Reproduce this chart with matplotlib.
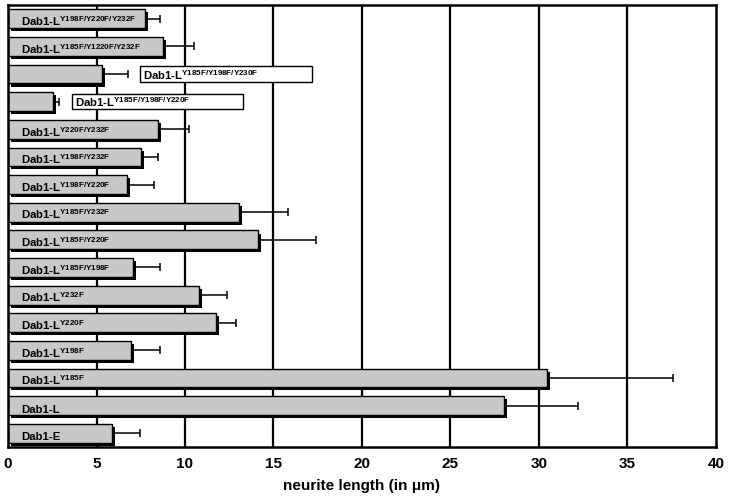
import numpy as np
import matplotlib
matplotlib.use("Agg")
import matplotlib.pyplot as plt
import matplotlib.patheffects as pe

plt.rcParams['font.family'] = ['Liberation Sans', 'DejaVu Sans']
plt.rcParams['mathtext.fontset'] = 'custom'
plt.rcParams['mathtext.rm'] = 'Liberation Sans:bold'
plt.rcParams['mathtext.bf'] = 'Liberation Sans:bold'

# rows listed top to bottom
names = ["Dab1-L", "Dab1-L", "Dab1-L", "Dab1-L", "Dab1-L", "Dab1-L", "Dab1-L", "Dab1-L",
         "Dab1-L", "Dab1-L", "Dab1-L", "Dab1-L", "Dab1-L", "Dab1-L", "Dab1-L", "Dab1-E"]
mutations = ["Y198F/Y220F/Y232F", "Y185F/Y1220F/Y232F", "Y185F/Y198F/Y230F",
             "Y185F/Y198F/Y220F", "Y220F/Y232F", "Y198F/Y232F", "Y198F/Y220F",
             "Y185F/Y232F", "Y185F/Y220F", "Y185F/Y198F", "Y232F", "Y220F",
             "Y198F", "Y185F", "", ""]
lengths = [7.75, 8.75, 5.3, 2.55, 8.5, 7.5, 6.7, 13.05, 14.1, 7.05, 10.8, 11.75,
           6.95, 30.45, 28.05, 5.85]
errors = [0.85, 1.75, 1.5, 0.35, 1.7, 1.0, 1.55, 2.75, 3.3, 1.55, 1.6, 1.15,
          1.65, 7.15, 4.15, 1.6]
# rows whose label sits in an outside box
outside_rows = [2, 3]
box_start = [7.45, 3.6]
box_end = [17.2, 13.3]

fig = plt.figure(figsize=(7.29, 4.99), dpi=100)
ax = fig.add_axes([0.011, 0.104, 0.971, 0.886])

y = np.arange(len(lengths))
for v in range(5, 40, 5):
    ax.axvline(v, color='black', lw=1.6, zorder=0)

bars = ax.barh(y, lengths, height=0.68, color='#c8c8c8', edgecolor='black',
               linewidth=1.0, zorder=2)
for b in bars:
    b.set_path_effects([pe.SimplePatchShadow(offset=(2.2, -2.2), shadow_rgbFace='black', alpha=1.0),
                        pe.Normal()])
ax.errorbar(lengths, y, xerr=[np.zeros(len(errors)), errors], fmt='none',
            ecolor='black', elinewidth=1.1, capsize=3, capthick=1.1, zorder=1)

def label(name, mut):
    if mut:
        return name + r"$^{\mathrm{" + mut + "}}$"
    return name

for i in range(len(lengths)):
    if i in outside_rows:
        continue
    ax.text(0.75, y[i] + 0.26, label(names[i], mutations[i]), fontsize=8.2,
            fontweight='bold', va='baseline', ha='left', zorder=4)

ax.barh([y[r] for r in outside_rows], [e - s for s, e in zip(box_start, box_end)],
        left=box_start, height=0.55, color='white', edgecolor='black', linewidth=1.0, zorder=3)
for r, s in zip(outside_rows, box_start):
    ax.text(s + 0.2, y[r] + 0.2, label(names[r], mutations[r]), fontsize=8.2,
            fontweight='bold', va='baseline', ha='left', zorder=4)

ax.set_xlim(0, 40)
ax.set_ylim(len(lengths) - 0.5, -0.5)
ax.set_xticks(range(0, 41, 5))
ax.set_yticks([])
ax.tick_params(axis='x', length=0, pad=7, labelsize=11)
for t in ax.get_xticklabels():
    t.set_fontweight('bold')
for s in ax.spines.values():
    s.set_linewidth(1.8)
ax.set_xlabel("neurite length (in μm)", fontsize=11, fontweight='bold', labelpad=6)

fig.savefig("out.png", dpi=100)
